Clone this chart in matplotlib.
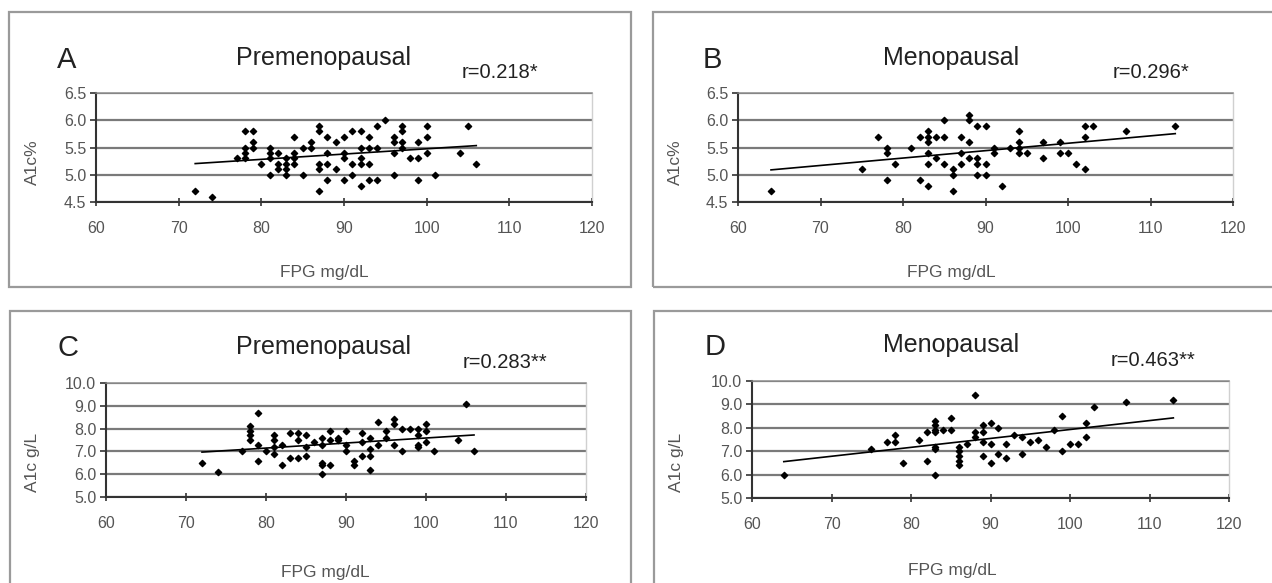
import matplotlib.pyplot as plt
import numpy as np
from matplotlib.patches import Rectangle

plt.rcParams["font.family"] = ["Liberation Sans", "DejaVu Sans"]

# Panel A - premenopausal, A1c %
a_fpg = [72, 74, 77, 78, 78, 78, 78, 79, 79, 79, 80, 81, 81, 81, 81,
         82, 82, 82, 83, 83, 83, 83, 84, 84, 84, 84, 85, 85, 86, 86,
         87, 87, 87, 87, 87, 88, 88, 88, 88, 89, 89, 90, 90, 90, 90,
         91, 91, 91, 92, 92, 92, 92, 92, 93, 93, 93, 93, 94, 94, 94,
         95, 96, 96, 96, 96, 97, 97, 97, 97, 98, 99, 99, 99, 100, 100,
         100, 101, 104, 105, 106]
a_a1c = [4.7, 4.6, 5.3, 5.8, 5.5, 5.4, 5.3, 5.8, 5.6, 5.5, 5.2, 5.5, 5.4, 5.3, 5.0,
         5.4, 5.2, 5.1, 5.3, 5.2, 5.1, 5.0, 5.7, 5.4, 5.3, 5.2, 5.5, 5.0, 5.6, 5.5,
         5.9, 5.8, 5.2, 5.1, 4.7, 5.7, 5.4, 5.2, 4.9, 5.6, 5.1, 5.7, 5.4, 5.3, 4.9,
         5.8, 5.2, 5.0, 5.8, 5.5, 5.3, 5.2, 4.8, 5.7, 5.5, 5.2, 4.9, 5.9, 5.5, 4.9,
         6.0, 5.7, 5.6, 5.4, 5.0, 5.9, 5.8, 5.6, 5.5, 5.3, 5.6, 5.3, 4.9, 5.9, 5.7,
         5.4, 5.0, 5.4, 5.9, 5.2]

# Panel B - menopausal, A1c %
b_fpg = [64, 75, 77, 78, 78, 78, 79, 81, 82, 82, 83, 83, 83, 83, 83, 83,
         84, 84, 85, 85, 85, 86, 86, 86, 87, 87, 87, 88, 88, 88, 88,
         89, 89, 89, 89, 90, 90, 90, 91, 91, 92, 93, 94, 94, 94, 94, 95,
         97, 97, 99, 99, 100, 101, 102, 102, 102, 103, 107, 113]
b_a1c = [4.7, 5.1, 5.7, 5.5, 5.4, 4.9, 5.2, 5.5, 5.7, 4.9, 5.8, 5.7, 5.6, 5.4, 5.2, 4.8,
         5.7, 5.3, 6.0, 5.7, 5.2, 5.1, 5.0, 4.7, 5.7, 5.4, 5.2, 6.1, 6.0, 5.6, 5.3,
         5.9, 5.3, 5.2, 5.0, 5.9, 5.2, 5.0, 5.5, 5.4, 4.8, 5.5, 5.8, 5.6, 5.5, 5.4, 5.4,
         5.6, 5.3, 5.6, 5.4, 5.4, 5.2, 5.9, 5.7, 5.1, 5.9, 5.8, 5.9]

# Panel C - premenopausal, A1c g/L
c_fpg = [72, 74, 77, 78, 78, 78, 78, 79, 79, 79, 80, 81, 81, 81, 81,
         82, 82, 83, 83, 84, 84, 84, 85, 85, 85, 86, 87, 87, 87, 87, 87,
         88, 88, 88, 89, 89, 90, 90, 90, 91, 91, 92, 92, 92, 93, 93, 93, 93,
         94, 94, 95, 95, 96, 96, 96, 97, 97, 98, 99, 99, 99, 99,
         100, 100, 100, 101, 104, 105, 106]
c_a1c = [6.5, 6.1, 7.0, 8.1, 7.9, 7.7, 7.5, 8.7, 7.3, 6.6, 7.0, 7.7, 7.5, 7.2, 6.9,
         7.3, 6.4, 7.8, 6.7, 7.8, 7.5, 6.7, 7.7, 7.2, 6.8, 7.4, 7.6, 7.3, 6.5, 6.4, 6.0,
         7.9, 7.5, 6.4, 7.6, 7.5, 7.9, 7.3, 7.0, 6.6, 6.4, 7.8, 7.4, 6.8, 7.6, 7.1, 6.8, 6.2,
         8.3, 7.3, 7.9, 7.6, 8.4, 8.2, 7.3, 8.0, 7.0, 8.0, 8.0, 7.7, 7.3, 7.2,
         8.2, 7.9, 7.4, 7.0, 7.5, 9.1, 7.0]

# Panel D - menopausal, A1c g/L
d_fpg = [64, 75, 77, 78, 78, 79, 81, 82, 82, 83, 83, 83, 83, 83, 83, 83,
         84, 85, 85, 86, 86, 86, 86, 86, 87, 88, 88, 88, 89, 89, 89, 89,
         90, 90, 90, 91, 91, 92, 92, 93, 94, 94, 95, 96, 97, 98, 99, 99,
         100, 101, 102, 102, 103, 107, 113]
d_a1c = [6.0, 7.1, 7.4, 7.7, 7.4, 6.5, 7.5, 7.8, 6.6, 8.3, 8.1, 7.9, 7.8, 7.2, 7.1, 6.0,
         7.9, 8.4, 7.9, 7.2, 7.0, 6.8, 6.6, 6.4, 7.3, 9.4, 7.8, 7.6, 8.1, 7.8, 7.4, 6.8,
         8.2, 7.3, 6.5, 8.0, 6.9, 7.3, 6.7, 7.7, 7.6, 6.9, 7.4, 7.5, 7.2, 7.9, 8.5, 7.0,
         7.3, 7.3, 8.2, 7.6, 8.9, 9.1, 9.2]

letters = ["A", "B", "C", "D"]
titles = ["Premenopausal", "Menopausal", "Premenopausal", "Menopausal"]
r_labels = ["r=0.218*", "r=0.296*", "r=0.283**", "r=0.463**"]
y_labels = ["A1c%", "A1c%", "A1c g/L", "A1c g/L"]
x_label = "FPG mg/dL"
x_ticks = [60, 70, 80, 90, 100, 110, 120]
pct_ticks = [4.5, 5.0, 5.5, 6.0, 6.5]
gl_ticks = [5.0, 6.0, 7.0, 8.0, 9.0, 10.0]

W, H = 1272, 583


def fx(px):
    return px / W


def fy(py):
    return 1 - py / H


def draw_panel(fig, i, xs, ys, ax_box, frame, text_pos, yticks):
    # outer grey frame around each panel
    x0, y0, x1, y1 = frame
    fig.add_artist(Rectangle((fx(x0), fy(y1)), fx(x1 - x0), (y1 - y0) / H,
                             transform=fig.transFigure, fill=False,
                             edgecolor="#9a9a9a", linewidth=1.6))

    l, t, r, b = ax_box
    ax = fig.add_axes([fx(l), fy(b), fx(r - l), (b - t) / H])

    ax.scatter(xs, ys, marker="D", s=10, color="black", zorder=3)

    # linear trend line from the data
    k, c = np.polyfit(xs, ys, 1)
    xx = np.array([min(xs), max(xs)])
    ax.plot(xx, k * xx + c, color="black", linewidth=1.2, zorder=2)

    ax.set_xlim(60, 120)
    ax.set_ylim(yticks[0], yticks[-1])
    ax.set_xticks(x_ticks)
    ax.set_yticks(yticks)
    ax.set_yticklabels([f"{v:.1f}" for v in yticks])
    ax.yaxis.grid(True, color="#7a7a7a", linewidth=1.6)
    ax.set_axisbelow(True)

    ax.spines["top"].set_color("#8a8a8a")
    ax.spines["top"].set_linewidth(1.1)
    ax.spines["right"].set_color("#d0d0d0")
    ax.spines["right"].set_linewidth(1.0)
    for s in ["left", "bottom"]:
        ax.spines[s].set_color("#333333")
        ax.spines[s].set_linewidth(1.5)
    ax.tick_params(axis="x", direction="inout", length=6, width=1.2,
                   colors="#333333", labelcolor="#555555", labelsize=11.5, pad=11)
    ax.tick_params(axis="y", direction="out", length=4, width=1.2,
                   colors="#333333", labelcolor="#555555", labelsize=11.5, pad=3)

    # texts
    (lx, ly), (tx, ty), (rx, ry), (xlx, xly), (ylx, yly) = text_pos
    fig.text(fx(lx), fy(ly), letters[i], fontsize=21, color="#222222",
             ha="center", va="center")
    fig.text(fx(tx), fy(ty), titles[i], fontsize=18, color="#222222",
             ha="center", va="center")
    fig.text(fx(rx), fy(ry), r_labels[i], fontsize=14.5, color="#222222",
             ha="center", va="center")
    fig.text(fx(xlx), fy(xly), x_label, fontsize=12.5, color="#555555",
             ha="center", va="center")
    fig.text(fx(ylx), fy(yly), y_labels[i], fontsize=12.5, color="#555555",
             ha="center", va="center", rotation=90)
    return ax


fig = plt.figure(figsize=(12.72, 5.83), dpi=100)

draw_panel(fig, 0, a_fpg, a_a1c, (96, 93, 592, 202), (9, 12, 631, 287),
           [(67, 60), (324, 58), (500, 72), (324, 272), (32, 162)], pct_ticks)
draw_panel(fig, 1, b_fpg, b_a1c, (738, 93, 1233, 202), (653, 12, 1290, 287),
           [(712, 60), (951, 58), (1151, 72), (951, 272), (675, 162)], pct_ticks)
draw_panel(fig, 2, c_fpg, c_a1c, (106, 383, 586, 497), (10, 311, 631, 600),
           [(68, 348), (324, 347), (505, 362), (325, 572), (33, 462)], gl_ticks)
draw_panel(fig, 3, d_fpg, d_a1c, (752, 381, 1229, 498), (654, 311, 1290, 600),
           [(715, 347), (951, 345), (1153, 360), (952, 570), (676, 462)], gl_ticks)

plt.savefig("out.png", dpi=100)
